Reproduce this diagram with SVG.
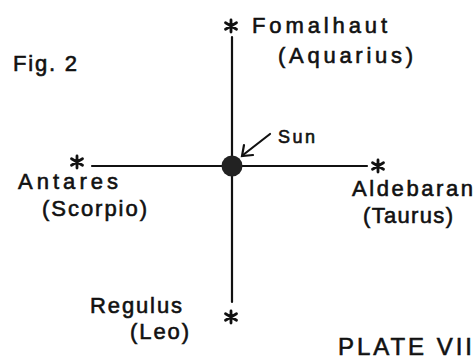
<svg xmlns="http://www.w3.org/2000/svg" width="475" height="360" viewBox="0 0 475 360">
  <style>
    text { font-family: "Liberation Sans", "DejaVu Sans", sans-serif; fill: #111; stroke: #111; stroke-width: 0.6; }
    .lbl { font-size: 22px; }
    .sm { font-size: 18px; }
    .ln { stroke: #111; stroke-width: 2.2; fill: none; stroke-linecap: round; }
    .star { stroke: #111; stroke-width: 2.8; fill: none; stroke-linecap: round; }
  </style>
  <defs>
    <g id="star">
      <path class="star" d="M0,-6 V6 M-5.5,-3.2 L5.5,3.2 M-5.5,3.2 L5.5,-3.2"/>
    </g>
  </defs>
  <rect width="475" height="360" fill="#ffffff"/>

  <g id="connectors">
    <line class="ln" x1="232" y1="37" x2="232" y2="302"/>
    <line class="ln" x1="92" y1="166" x2="367" y2="166"/>
    <line class="ln" x1="270" y1="134" x2="243" y2="155"/>
    <polyline class="ln" points="244,145 242,156 253,155"/>
  </g>

  <g id="fig-label">
    <text x="13" y="71" class="lbl" textLength="64" lengthAdjust="spacing">Fig. 2</text>
  </g>

  <g id="sun">
    <circle cx="232" cy="166" r="10.5" fill="#222"/>
    <text x="278" y="143" class="sm" textLength="37" lengthAdjust="spacing">Sun</text>
  </g>

  <g id="fomalhaut">
    <use href="#star" x="231" y="26"/>
    <text x="252" y="33" class="lbl" textLength="135" lengthAdjust="spacing">Fomalhaut</text>
    <text x="278" y="63" class="lbl" textLength="135" lengthAdjust="spacing">(Aquarius)</text>
  </g>

  <g id="antares">
    <use href="#star" x="77" y="162"/>
    <text x="18" y="189" class="lbl" textLength="100" lengthAdjust="spacing">Antares</text>
    <text x="42" y="216" class="lbl" textLength="105" lengthAdjust="spacing">(Scorpio)</text>
  </g>

  <g id="aldebaran">
    <use href="#star" x="378" y="166"/>
    <text x="352" y="196" class="lbl" textLength="121" lengthAdjust="spacing">Aldebaran</text>
    <text x="363" y="223" class="lbl" textLength="90" lengthAdjust="spacing">(Taurus)</text>
  </g>

  <g id="regulus">
    <use href="#star" x="231" y="317"/>
    <text x="90" y="313" class="lbl" textLength="92" lengthAdjust="spacing">Regulus</text>
    <text x="130" y="339" class="lbl" textLength="59" lengthAdjust="spacing">(Leo)</text>
  </g>

  <g id="plate-label">
    <text x="338" y="355" style="font-size:24px" textLength="134" lengthAdjust="spacing">PLATE VII</text>
  </g>
</svg>
